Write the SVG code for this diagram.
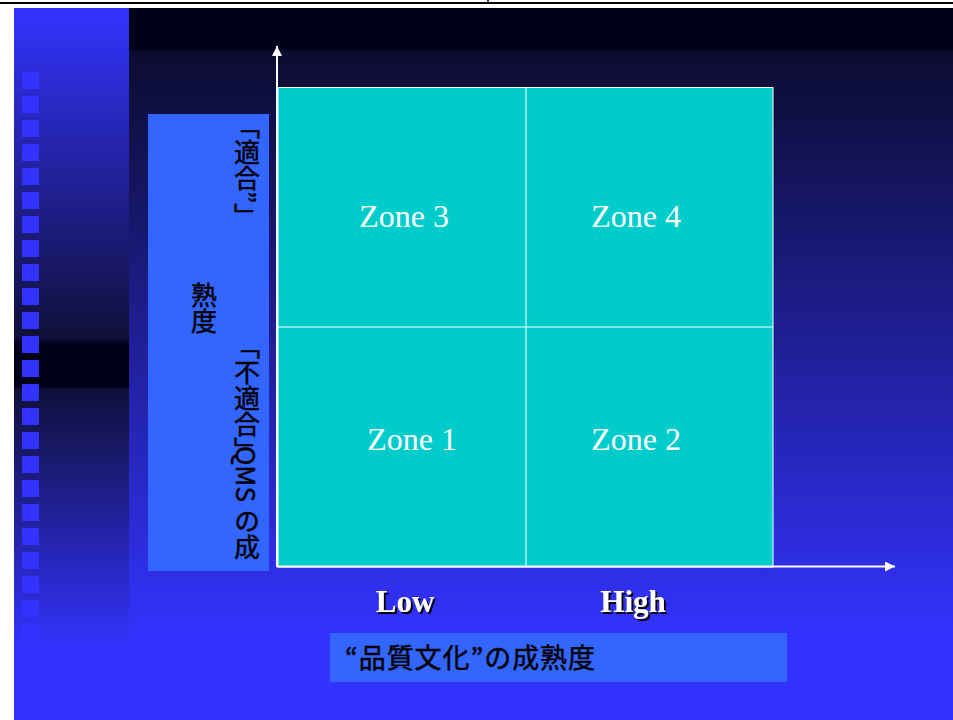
<svg xmlns="http://www.w3.org/2000/svg" width="953" height="720" viewBox="0 0 953 720">
  <defs>
    <linearGradient id="bgMain" x1="0" y1="8" x2="0" y2="720" gradientUnits="userSpaceOnUse">
      <stop offset="0" stop-color="#00001a"/>
      <stop offset="0.059" stop-color="#00001a"/>
      <stop offset="0.06" stop-color="#0c0c30"/>
      <stop offset="0.888" stop-color="#3333ff"/>
      <stop offset="1" stop-color="#3333ff"/>
    </linearGradient>
    <linearGradient id="bgStrip" x1="0" y1="8" x2="0" y2="720" gradientUnits="userSpaceOnUse">
      <stop offset="0" stop-color="#3333ff"/>
      <stop offset="0.462" stop-color="#10103a"/>
      <stop offset="0.474" stop-color="#000018"/>
      <stop offset="0.532" stop-color="#000018"/>
      <stop offset="0.535" stop-color="#10103a"/>
      <stop offset="0.9" stop-color="#3333ff"/>
      <stop offset="1" stop-color="#3333ff"/>
    </linearGradient>
    <pattern id="sq" x="22" y="72" width="17" height="24" patternUnits="userSpaceOnUse">
      <rect x="0" y="0" width="17" height="17" fill="#3333ff"/>
    </pattern>
    <marker id="arrow" viewBox="0 0 10 10" refX="10" refY="5" markerWidth="10" markerHeight="10" markerUnits="userSpaceOnUse" orient="auto">
      <path d="M0,0 L10,5 L0,10 Z" fill="#ffffff"/>
    </marker>
    <filter id="shadow" x="-10%" y="-20%" width="130%" height="150%">
      <feDropShadow dx="2" dy="2" stdDeviation="0" flood-color="#000000" flood-opacity="1"/>
    </filter>
  </defs>
  <style>
    .zone { font-family: "Liberation Serif", "Times New Roman", serif; font-size: 32px; fill: #ffffff; text-anchor: middle; }
    .axislbl { font-family: "Liberation Serif", "Times New Roman", serif; font-size: 31px; font-weight: bold; fill: #ffffff; text-anchor: middle; filter: url(#shadow); }
    .jp { font-family: "Noto Sans CJK JP", "Noto Sans CJK SC", sans-serif; fill: #000000; stroke: #000000; stroke-width: 0.45; }
    .vert { writing-mode: vertical-rl; font-size: 26px; }
    .box { fill: #3366ff; }
    .axis { stroke: #ffffff; stroke-width: 2; fill: none; }
    .grid { stroke: #ffffff; stroke-width: 1; }
  </style>

  <!-- page background -->
  <rect x="0" y="0" width="953" height="720" fill="#ffffff"/>
  <rect x="0" y="2" width="953" height="2" fill="#000000"/>
  <line x1="488" y1="0" x2="488" y2="3" stroke="#000000" stroke-width="1.5"/>
  <rect x="129" y="8" width="824" height="712" fill="url(#bgMain)"/>
  <rect x="14" y="8" width="115" height="712" fill="url(#bgStrip)"/>
  <rect x="22" y="72" width="17" height="617" fill="url(#sq)"/>

  <!-- matrix -->
  <g id="matrix">
    <rect x="278" y="87.5" width="495" height="479.5" fill="#00cccc" stroke="#ffffff" stroke-width="1"/>
    <line class="grid" x1="526" y1="87.5" x2="526" y2="567"/>
    <line class="grid" x1="278" y1="327" x2="773" y2="327"/>
  </g>
  <g id="zone3"><text class="zone" x="404" y="227">Zone 3</text></g>
  <g id="zone4"><text class="zone" x="636" y="227">Zone 4</text></g>
  <g id="zone1"><text class="zone" x="412" y="450">Zone 1</text></g>
  <g id="zone2"><text class="zone" x="636" y="450">Zone 2</text></g>

  <!-- axes -->
  <g id="connectors">
    <line class="axis" x1="277" y1="567" x2="277" y2="46" marker-end="url(#arrow)"/>
    <line class="axis" x1="277" y1="566.5" x2="895" y2="566.5" marker-end="url(#arrow)"/>
  </g>

  <!-- y-axis label -->
  <g id="ylabel">
    <rect class="box" x="148" y="114" width="121" height="457"/>
    <text class="jp vert" x="247" y="113">「適合”」</text>
    <text class="jp vert" x="204" y="282">熟度</text>
    <text class="jp vert" x="247" y="333">「不適合」</text>
    <text class="jp vert" x="247" y="446">QMS の成</text>
  </g>

  <!-- x-axis labels -->
  <g id="low"><text class="axislbl" x="405" y="612">Low</text></g>
  <g id="high"><text class="axislbl" x="633" y="612">High</text></g>

  <g id="xlabel">
    <rect class="box" x="330" y="633" width="457" height="49"/>
    <text class="jp" x="345" y="668" font-size="27" textLength="250" lengthAdjust="spacing">“品質文化”の成熟度</text>
  </g>
</svg>
